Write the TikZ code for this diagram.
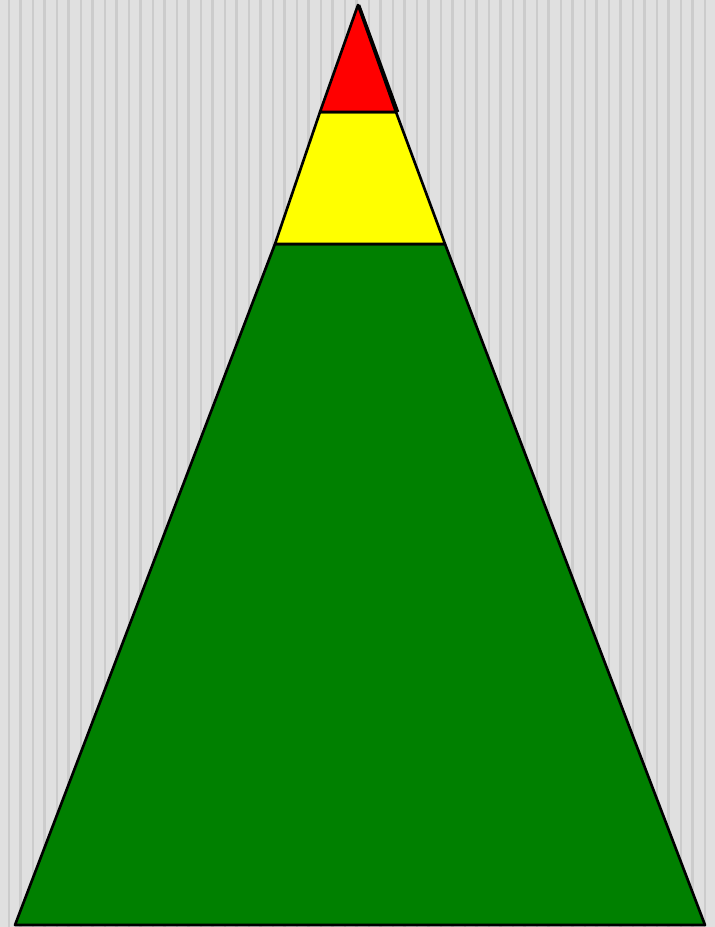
\documentclass[tikz,border=0pt]{standalone}
\usepackage{tikz}
\usepackage{xcolor}
\definecolor{bggray}{RGB}{224,224,224}
\definecolor{stripegray}{RGB}{204,204,204}
\definecolor{treegreen}{RGB}{0,128,0}
\definecolor{tipred}{RGB}{255,0,0}
\definecolor{bandyellow}{RGB}{255,255,0}

\begin{document}
\begin{tikzpicture}[
    x=0.01cm, y=-0.01cm,
    stripe/.style={stripegray, line width=#1},
    layer/.style={draw=black, line width=0.75pt, line join=round}
]
    % background with vertical stripes
    \fill[bggray] (0,0) rectangle (715,927);
    \useasboundingbox (0,0) rectangle (715,927);
    \foreach \k in {0,...,29} {
        \draw[stripe=0.6pt] (9+24*\k,0) -- (9+24*\k,927);
        \draw[stripe=0.9pt] (20.5+24*\k,0) -- (20.5+24*\k,927);
    }

    % the three layers of the peak
    \filldraw[layer, fill=treegreen] (15,925) -- (275,244) -- (445,244) -- (705,925) -- cycle;
    \filldraw[layer, fill=bandyellow] (275,244) -- (320,112) -- (396,112) -- (445,244) -- cycle;
    \filldraw[layer, fill=tipred] (320,112) -- (358,5) -- (396,112) -- cycle;
    \draw[layer] (359,5) -- (398,112);
\end{tikzpicture}
\end{document}
